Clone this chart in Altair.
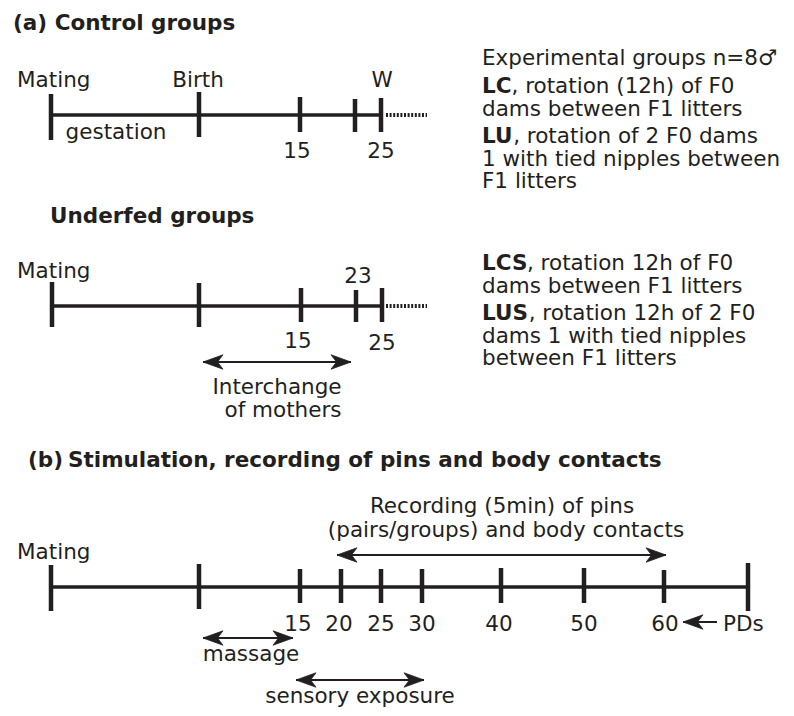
import altair as alt
import pandas as pd

# ---------------- data ----------------
# panel (a) control timeline
CTRL_Y = 115
CTRL_TICK_X = [51, 199, 300, 355, 381]
CTRL_TICK_TOP = [94, 92, 97, 99, 98]
CTRL_TICK_BOT = [140, 137, 132, 132, 132]
# panel (a) underfed timeline
UND_Y = 306
UND_TICK_X = [52, 199, 301, 356, 382]
UND_TICK_TOP = [282, 283, 288, 290, 288]
UND_TICK_BOT = [327, 327, 322, 322, 322]
# panel (b) timeline
B_Y = 587
B_TICK_X = [51, 199, 300, 341, 381, 422, 501, 584, 664, 748]
B_TICK_TOP = [565, 564, 569, 569, 569, 569, 568, 568, 570, 563]
B_TICK_BOT = [611, 609, 603, 603, 603, 603, 603, 603, 603, 611]
B_DAY_LABELS = ["15", "20", "25", "30", "40", "50", "60"]
B_DAY_X = [298, 339, 381, 422, 499, 584, 665]
B_DAY_Y = 631

# solid timelines (start, end, level)
LINE_X1 = [51, 52, 51]
LINE_X2 = [381, 382, 748]
LINE_Y = [CTRL_Y, UND_Y, B_Y]
# dotted continuations
DOT_X1 = [386, 386]
DOT_X2 = [427, 427]
DOT_Y = [CTRL_Y, UND_Y]

# arrows: start, end, level, heads
ARROW_NAMES = ["interchange", "recording", "massage", "sensory", "PDs"]
ARROW_X1 = [203, 337, 203, 296, 683]
ARROW_X2 = [351, 666, 293, 424, 717]
ARROW_Y = [362, 555, 638, 680, 622]
ARROW_LEFT_HEAD = [True, True, True, True, True]
ARROW_RIGHT_HEAD = [True, True, True, True, False]

# plain labels: text, x, baseline y, anchor
LABEL_TEXT = ["Mating", "Birth", "W", "gestation", "15", "25",
              "Mating", "23", "15", "25", "Interchange", "of mothers",
              "Recording (5min) of pins", "(pairs/groups) and body contacts",
              "Mating", "PDs", "massage", "sensory exposure"]
LABEL_X = [17, 198, 382, 116, 297, 381,
           17, 358, 298, 382, 277, 283,
           502, 506,
           17, 723, 251, 360]
LABEL_Y = [87, 87, 87, 139, 158, 158,
           278, 283, 348, 350, 394, 417,
           513, 537,
           559, 631, 661, 703]
LABEL_ALIGN = ["left", "center", "center", "center", "center", "center",
               "left", "center", "center", "center", "center", "center",
               "center", "center",
               "left", "left", "center", "center"]

# section titles (bold)
TITLE_TEXT = ["(a) Control groups", "Underfed groups", "(b)",
              "Stimulation, recording of pins and body contacts"]
TITLE_X = [13, 50, 28, 68]
TITLE_Y = [30, 223, 467, 467]

# right-hand description block: bold prefix, rest of line, baseline
DESC_BOLD = ["", "LC", "", "LU", "", "", "LCS", "", "LUS", "", ""]
DESC_REST = ["Experimental groups n=8\u2642", ", rotation (12h) of F0",
             "dams between F1 litters", ", rotation of 2 F0 dams",
             "1 with tied nipples between", "F1 litters",
             ", rotation 12h of F0", "dams between F1 litters",
             ", rotation 12h of 2 F0", "dams 1 with tied nipples",
             "between F1 litters"]
DESC_Y = [65, 93, 116, 143, 166, 188, 270, 293, 320, 343, 365]
DESC_X = 482

# ---------------- styling ----------------
INK = "#231f20"
FONT = "DejaVu Sans"
FS = 21.5
BOLD_W = {"L": 0.637, "C": 0.734, "U": 0.812, "S": 0.720}  # DejaVu Sans Bold advances (em)
HEAD = 20  # arrowhead length px

X = alt.Scale(domain=[8, 786], nice=False, zero=False)
Y = alt.Scale(domain=[8, 708], nice=False, zero=False, reverse=True)


def xq(f):
    return alt.X(f"{f}:Q", scale=X, axis=None)


def yq(f):
    return alt.Y(f"{f}:Q", scale=Y, axis=None)


# ticks
ticks = pd.DataFrame({
    "x": CTRL_TICK_X + UND_TICK_X + B_TICK_X,
    "y": CTRL_TICK_TOP + UND_TICK_TOP + B_TICK_TOP,
    "y2": CTRL_TICK_BOT + UND_TICK_BOT + B_TICK_BOT,
})
tick_layer = alt.Chart(ticks).mark_rule(color=INK, strokeWidth=4.5, strokeCap="butt").encode(
    x=xq("x"), y=yq("y"), y2="y2:Q")

lines = pd.DataFrame({"x": LINE_X1, "x2": LINE_X2, "y": LINE_Y})
line_layer = alt.Chart(lines).mark_rule(color=INK, strokeWidth=3.5, strokeCap="butt").encode(
    x=xq("x"), x2="x2:Q", y=yq("y"))

dots = pd.DataFrame({"x": DOT_X1, "x2": DOT_X2, "y": DOT_Y})
dot_layer = alt.Chart(dots).mark_rule(color=INK, strokeWidth=4, strokeDash=[2, 1.6],
                                      strokeCap="butt").encode(
    x=xq("x"), x2="x2:Q", y=yq("y"))

arrows = pd.DataFrame({"name": ARROW_NAMES, "x": ARROW_X1, "x2": ARROW_X2, "y": ARROW_Y})
shaft_layer = alt.Chart(arrows).mark_rule(color=INK, strokeWidth=2).encode(
    x=xq("x"), x2="x2:Q", y=yq("y"))

heads = []
for x1, x2, y, lh, rh in zip(ARROW_X1, ARROW_X2, ARROW_Y, ARROW_LEFT_HEAD, ARROW_RIGHT_HEAD):
    if lh:
        heads.append({"x": x1 + HEAD / 2, "y": y, "dir": "L"})
    if rh:
        heads.append({"x": x2 - HEAD / 2, "y": y, "dir": "R"})
heads = pd.DataFrame(heads)
LEFT_PATH = "M-1,0L1,-0.72L0.45,0L1,0.72Z"
RIGHT_PATH = "M1,0L-1,-0.72L-0.45,0L-1,0.72Z"
head_layer = alt.Chart(heads).mark_point(filled=True, fill=INK, color=INK, opacity=1,
                                         size=HEAD * HEAD, strokeWidth=0.8, stroke=INK).encode(
    x=xq("x"), y=yq("y"),
    shape=alt.Shape("dir:N", scale=alt.Scale(domain=["L", "R"], range=[LEFT_PATH, RIGHT_PATH]),
                    legend=None))

text_layers = []
labels = pd.DataFrame({"t": LABEL_TEXT, "x": LABEL_X, "y": LABEL_Y, "a": LABEL_ALIGN})
labels = pd.concat([labels, pd.DataFrame({"t": B_DAY_LABELS, "x": B_DAY_X,
                                          "y": [B_DAY_Y] * len(B_DAY_X),
                                          "a": ["center"] * len(B_DAY_X)})])
for al in ["left", "center"]:
    sub = labels[labels.a == al]
    text_layers.append(alt.Chart(sub).mark_text(
        font=FONT, fontSize=FS, color=INK, align=al, baseline="alphabetic").encode(
        x=xq("x"), y=yq("y"), text="t:N"))

titles = pd.DataFrame({"t": TITLE_TEXT, "x": TITLE_X, "y": TITLE_Y})
text_layers.append(alt.Chart(titles).mark_text(
    font=FONT, fontSize=FS, fontWeight="bold", color=INK, align="left",
    baseline="alphabetic").encode(x=xq("x"), y=yq("y"), text="t:N"))

bold_rows, rest_rows = [], []
for b, r, y in zip(DESC_BOLD, DESC_REST, DESC_Y):
    off = sum(BOLD_W[c] for c in b) * FS
    if b:
        bold_rows.append({"t": b, "x": DESC_X, "y": y})
    rest_rows.append({"t": r, "x": DESC_X + off, "y": y})
text_layers.append(alt.Chart(pd.DataFrame(bold_rows)).mark_text(
    font=FONT, fontSize=FS, fontWeight="bold", color=INK, align="left",
    baseline="alphabetic").encode(x=xq("x"), y=yq("y"), text="t:N"))
text_layers.append(alt.Chart(pd.DataFrame(rest_rows)).mark_text(
    font=FONT, fontSize=FS, color=INK, align="left",
    baseline="alphabetic").encode(x=xq("x"), y=yq("y"), text="t:N"))

chart = alt.layer(line_layer, dot_layer, tick_layer, shaft_layer, head_layer, *text_layers).properties(
    width=778, height=700, padding=0, autosize=alt.AutoSizeParams(type="none"),
    background="white"
).configure_view(stroke=None)

chart.save("out.html", embed_options={"renderer": "svg", "actions": False})
